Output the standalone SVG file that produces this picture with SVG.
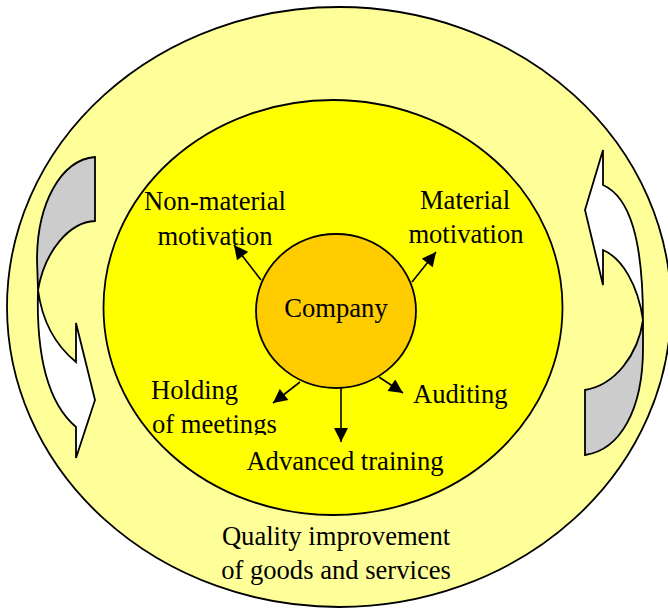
<svg xmlns="http://www.w3.org/2000/svg" width="668" height="610" viewBox="0 0 668 610">
<defs>
<style>
.t{font-family:"Liberation Serif","Times New Roman",serif;font-size:26.6px;fill:#000}
.m{text-anchor:middle}
.s{stroke:#000;stroke-width:1.8;stroke-linejoin:miter}
.c{stroke:#000;stroke-width:1.6;fill:none}
</style>
<marker id="ah" viewBox="0 0 10 10" refX="10" refY="5" markerWidth="15" markerHeight="14" markerUnits="userSpaceOnUse" orient="auto">
<path d="M0,0 L10,5 L0,10 z" fill="#000"/>
</marker>
<clipPath id="clipM"><rect x="0" y="0" width="668" height="435"/></clipPath>
</defs>
<rect width="668" height="610" fill="#fff"/>
<g id="outer">
<ellipse cx="339" cy="307" rx="332" ry="300" fill="#FFFF99" class="s"/>
</g>
<g id="left-arrow">
<path d="M95,157 L95,221 C70,222 45,250 38,290 L37,260 C37,205 60,160 95,157 Z" fill="#CCCCCC" class="s"/>
<path d="M38,290 C36,360 50,405 76,427 L76,458 L95,400 L76,323 L76,362 C55,345 42,320 38,290 Z" fill="#FFFFFF" class="s"/>
</g>
<g id="right-arrow">
<path d="M603,185 C630,197 643,240 643,320 C638,285 622,258 603,250 L603,285 L585,210 L603,150 Z" fill="#FFFFFF" class="s"/>
<path d="M643,320 L643,348 C643,410 620,450 585,455 L585,390 C615,385 638,355 643,320 Z" fill="#CCCCCC" class="s"/>
</g>
<g id="inner">
<ellipse cx="333" cy="307.5" rx="229.5" ry="207.5" fill="#FFFF00" class="s"/>
</g>
<g id="connectors">
<line x1="261" y1="280" x2="234" y2="245" class="c" marker-end="url(#ah)"/>
<line x1="412" y1="282" x2="436" y2="252" class="c" marker-end="url(#ah)"/>
<line x1="300" y1="382" x2="273" y2="403" class="c" marker-end="url(#ah)"/>
<line x1="379" y1="377" x2="403" y2="393" class="c" marker-end="url(#ah)"/>
<line x1="341" y1="388" x2="341" y2="442" class="c" marker-end="url(#ah)"/>
</g>
<g id="company">
<ellipse cx="336" cy="311" rx="80" ry="77" fill="#FFCC00" class="s"/>
<text class="t m" x="336" y="317">Company</text>
</g>
<g id="non-material">
<text class="t m" x="215" y="210">Non-material</text>
<text class="t m" x="215" y="245">motivation</text>
</g>
<g id="material">
<text class="t m" x="465" y="209">Material</text>
<text class="t m" x="466" y="243">motivation</text>
</g>
<g id="holding">
<text class="t" x="151" y="399">Holding</text>
<text class="t" x="152" y="433" clip-path="url(#clipM)">of meetings</text>
</g>
<g id="auditing">
<text class="t" x="413" y="403">Auditing</text>
</g>
<g id="training">
<text class="t m" x="345" y="470">Advanced training</text>
</g>
<g id="quality">
<text class="t m" x="336" y="545">Quality improvement</text>
<text class="t m" x="336" y="579">of goods and services</text>
</g>
</svg>
